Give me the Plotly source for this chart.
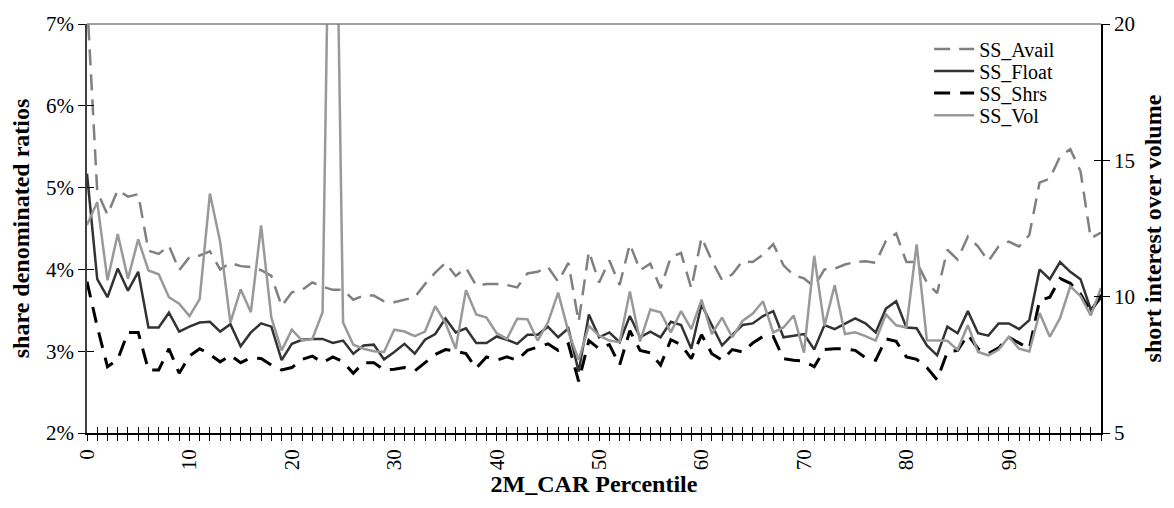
import plotly.graph_objects as go

percentile = list(range(100))

ss_avail = [7.3, 4.95, 4.67, 4.97, 4.89, 4.92, 4.23, 4.19, 4.29, 3.99,
            4.15, 4.17, 4.22, 4.00, 4.08, 4.04, 4.03, 3.99, 3.92, 3.55,
            3.72, 3.75, 3.84, 3.79, 3.75, 3.75, 3.63, 3.68, 3.68, 3.61,
            3.60, 3.63, 3.66, 3.82, 3.96, 4.08, 3.92, 4.02, 3.80, 3.82,
            3.82, 3.81, 3.78, 3.95, 3.97, 4.03, 3.85, 4.08, 3.36, 4.22,
            3.84, 4.11, 3.81, 4.31, 3.99, 4.07, 3.77, 4.15, 4.20, 3.77,
            4.39, 4.11, 3.87, 3.94, 4.10, 4.09, 4.18, 4.31, 4.05, 3.93,
            3.89, 3.79, 4.00, 4.01, 4.06, 4.09, 4.10, 4.08, 4.35, 4.44,
            4.09, 4.09, 3.84, 3.71, 4.24, 4.12, 4.40, 4.28, 4.10, 4.28,
            4.34, 4.28, 4.42, 5.06, 5.11, 5.38, 5.47, 5.20, 4.38, 4.45]

ss_float = [5.17, 3.88, 3.66, 4.01, 3.74, 3.97, 3.29, 3.29, 3.47, 3.24,
            3.30, 3.35, 3.36, 3.24, 3.33, 3.06, 3.23, 3.34, 3.30, 2.89,
            3.09, 3.14, 3.15, 3.15, 3.10, 3.13, 2.97, 3.07, 3.08, 2.90,
            2.99, 3.09, 2.97, 3.14, 3.21, 3.40, 3.23, 3.28, 3.10, 3.10,
            3.18, 3.14, 3.09, 3.20, 3.20, 3.30, 3.17, 3.28, 2.75, 3.45,
            3.17, 3.23, 3.11, 3.43, 3.17, 3.24, 3.17, 3.36, 3.32, 3.03,
            3.57, 3.31, 3.07, 3.20, 3.32, 3.34, 3.43, 3.49, 3.17, 3.19,
            3.21, 3.02, 3.32, 3.27, 3.34, 3.40, 3.34, 3.23, 3.52, 3.61,
            3.29, 3.28, 3.07, 2.95, 3.30, 3.22, 3.49, 3.22, 3.19, 3.34,
            3.34, 3.27, 3.38, 4.00, 3.88, 4.09, 3.97, 3.88, 3.51, 3.65]

ss_shrs = [3.85, 3.30, 2.81, 2.90, 3.23, 3.23, 2.77, 2.77, 3.03, 2.73,
           2.94, 3.03, 2.96, 2.87, 2.95, 2.86, 2.92, 2.91, 2.83, 2.77,
           2.80, 2.90, 2.94, 2.86, 2.93, 2.87, 2.73, 2.86, 2.86, 2.77,
           2.78, 2.80, 2.76, 2.86, 2.96, 3.02, 3.00, 2.97, 2.79, 2.93,
           2.89, 2.93, 2.89, 3.01, 3.05, 3.09, 3.01, 3.09, 2.63, 3.13,
           3.03, 3.08, 2.83, 3.25, 3.01, 2.98, 2.83, 3.14, 3.08, 2.91,
           3.20, 2.97, 2.89, 3.02, 2.99, 3.10, 3.18, 3.18, 2.91, 2.89,
           2.88, 2.81, 3.02, 3.03, 3.03, 3.01, 2.92, 2.89, 3.15, 3.12,
           2.93, 2.90, 2.80, 2.65, 2.99, 3.01, 3.20, 3.03, 2.97, 3.04,
           3.17, 3.10, 3.03, 3.62, 3.66, 3.89, 3.83, 3.70, 3.48, 3.69]

ss_vol = [12.63, 13.47, 10.60, 12.30, 10.66, 12.10, 10.96, 10.82, 9.98, 9.74,
          9.29, 9.91, 13.78, 12.01, 9.05, 10.27, 9.43, 12.61, 9.23, 8.03,
          8.79, 8.39, 8.45, 9.43, 34.0, 9.05, 8.24, 8.09, 8.00, 7.97,
          8.79, 8.72, 8.55, 8.72, 9.65, 9.03, 8.09, 10.24, 9.35, 9.23,
          8.66, 8.45, 9.19, 9.17, 8.39, 9.05, 10.15, 8.72, 7.68, 8.93,
          8.57, 8.39, 8.33, 10.19, 8.36, 9.53, 9.43, 8.69, 9.47, 8.81,
          9.89, 8.63, 9.23, 8.51, 9.11, 9.38, 9.83, 8.69, 8.87, 9.31,
          7.95, 11.50, 8.93, 10.42, 8.63, 8.69, 8.55, 8.39, 9.35, 8.95,
          8.87, 11.92, 8.40, 8.38, 8.38, 8.05, 8.95, 7.97, 7.85, 8.05,
          8.53, 8.09, 7.99, 9.40, 8.53, 9.21, 10.38, 10.02, 9.31, 10.32]

x_tick_text = [str(p) if p % 10 == 0 else "" for p in percentile]
left_ticks = [2, 3, 4, 5, 6, 7]
right_ticks = [5, 10, 15, 20]

FONT = "Liberation Serif"

fig = go.Figure()
fig.add_trace(go.Scatter(x=percentile, y=ss_avail, name="SS_Avail", mode="lines", legend="legend",
                         line=dict(color="#808080", width=2.5, dash="16px,9px")))
fig.add_trace(go.Scatter(x=percentile, y=ss_float, name="SS_Float", mode="lines", legend="legend2",
                         line=dict(color="#333333", width=2.5)))
fig.add_trace(go.Scatter(x=percentile, y=ss_shrs, name="SS_Shrs", mode="lines", legend="legend3",
                         line=dict(color="#000000", width=3, dash="16px,10px")))
fig.add_trace(go.Scatter(x=percentile, y=ss_vol, name="SS_Vol", mode="lines", yaxis="y2",
                         legend="legend4", line=dict(color="#999999", width=2.5)))
# invisible helpers so the overlay axes (inner half of the crossing ticks) are drawn
fig.add_trace(go.Scatter(x=percentile, y=ss_float, xaxis="x2", yaxis="y3", mode="lines",
                         opacity=0, showlegend=False, hoverinfo="skip"))
fig.add_trace(go.Scatter(x=percentile, y=ss_vol, xaxis="x2", yaxis="y4", mode="lines",
                         opacity=0, showlegend=False, hoverinfo="skip"))

tickfont = dict(family=FONT, size=21, color="black")
titlefont = dict(family=FONT, size=24, color="black", weight="bold")


def legend_row(ypaper):
    return dict(x=0.8305, y=ypaper, xanchor="left", yanchor="middle",
                bgcolor="rgba(0,0,0,0)", font=dict(family=FONT, size=20, color="black"),
                itemwidth=40)


fig.update_layout(
    width=1174, height=508,
    margin=dict(l=87, r=66, t=15, b=75),
    paper_bgcolor="white", plot_bgcolor="white",
    font=dict(family=FONT, size=20, color="black"),
    showlegend=True,
    legend=legend_row(0.939),
    legend2=legend_row(0.885),
    legend3=legend_row(0.831),
    legend4=legend_row(0.777),
    xaxis=dict(range=[0, 99], tickmode="array", tickvals=percentile, ticktext=x_tick_text,
               tickangle=-90, ticks="outside", ticklen=6, tickcolor="black", tickwidth=1,
               showline=True, linecolor="black", linewidth=1.5, showgrid=False, zeroline=False,
               tickfont=tickfont,
               title=dict(text="2M_CAR Percentile", font=titlefont, standoff=6)),
    xaxis2=dict(range=[0, 99], overlaying="x", anchor="y", side="bottom",
                tickmode="array", tickvals=percentile, ticks="inside", ticklen=6,
                tickcolor="black", tickwidth=1, showticklabels=False, showline=False,
                showgrid=False, zeroline=False),
    yaxis=dict(range=[2, 7], tickmode="array", tickvals=left_ticks,
               ticktext=[f"{v}%" for v in left_ticks],
               ticks="outside", ticklen=7, tickcolor="black", tickwidth=1,
               showline=True, linecolor="#404040", linewidth=1.5, showgrid=False, zeroline=False,
               tickfont=tickfont,
               title=dict(text="share denominated ratios", font=titlefont, standoff=10)),
    yaxis3=dict(range=[2, 7], overlaying="y", anchor="x2", side="left",
                tickmode="array", tickvals=left_ticks, ticks="inside", ticklen=7,
                tickcolor="black", tickwidth=1, showticklabels=False, showline=False,
                showgrid=False, zeroline=False),
    yaxis2=dict(range=[5, 20], overlaying="y", side="right", anchor="x",
                tickmode="array", tickvals=right_ticks,
                ticks="outside", ticklen=7, tickcolor="black", tickwidth=1,
                showline=True, linecolor="black", linewidth=1.5, showgrid=False, zeroline=False,
                tickfont=tickfont,
                title=dict(text="short interest over volume", font=titlefont, standoff=10)),
    yaxis4=dict(range=[5, 20], overlaying="y", side="right", anchor="x2",
                tickmode="array", tickvals=right_ticks, ticks="inside", ticklen=7,
                tickcolor="black", tickwidth=1, showticklabels=False, showline=False,
                showgrid=False, zeroline=False),
    shapes=[dict(type="line", xref="paper", yref="paper", x0=0, x1=1, y0=1, y1=1,
                 line=dict(color="#808080", width=1.5))],
)

fig.write_html("out.html")
